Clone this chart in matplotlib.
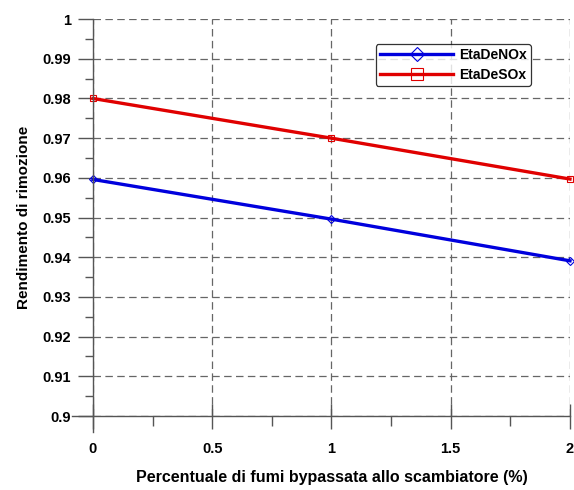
import matplotlib.pyplot as plt
import numpy as np

plt.rcParams['font.family'] = ['Liberation Sans', 'DejaVu Sans']
plt.rcParams['font.weight'] = 'bold'

bypass = [0, 1, 2]
eta_denox = [0.9596, 0.9496, 0.9391]
eta_desox = [0.980, 0.970, 0.9597]

fig = plt.figure(figsize=(5.74, 4.9), dpi=100)
ax = fig.add_axes([0.162, 0.151, 0.831, 0.810])

ax.plot(bypass, eta_denox, color='#0000dd', lw=2.4, marker='D', ms=4,
        mfc='none', mec='#0000dd', mew=0.8, label='EtaDeNOx', clip_on=False)
ax.plot(bypass, eta_desox, color='#e00000', lw=2.4, marker='s', ms=5,
        mfc='none', mec='#e00000', mew=0.8, label='EtaDeSOx', clip_on=False)

ax.set_xlim(0, 2)
ax.set_ylim(0.9, 1.0)
ax.set_xticks(np.arange(0, 2.01, 0.5))
ax.set_xticklabels(['0', '0.5', '1', '1.5', '2'])
ax.set_xticks(np.arange(0.25, 2, 0.5), minor=True)
ax.set_yticks(np.arange(0.9, 1.001, 0.01))
ax.set_yticklabels(['0.9', '0.91', '0.92', '0.93', '0.94', '0.95', '0.96',
                    '0.97', '0.98', '0.99', '1'])
ax.set_yticks(np.arange(0.905, 1.0, 0.01), minor=True)

ax.grid(True, which='major', ls=(0, (6, 3.5)), color='#666666', lw=0.9)
ax.set_axisbelow(True)

for s in ['top', 'right']:
    ax.spines[s].set_visible(False)
for s in ['left', 'bottom']:
    ax.spines[s].set_color('#555555')
    ax.spines[s].set_linewidth(1.0)
ax.spines['left'].set_bounds(0.896, 1.0)
ax.spines['bottom'].set_bounds(-0.09, 2.0)

ax.tick_params(axis='y', which='major', direction='out', length=11, width=1,
               color='#555555', pad=5, labelsize=10.5)
ax.tick_params(axis='y', which='minor', direction='out', length=6, width=1,
               color='#555555')
ax.tick_params(axis='x', which='major', direction='inout', length=18, width=1,
               color='#555555', pad=10, labelsize=10.5)
ax.tick_params(axis='x', which='minor', direction='out', length=7, width=1,
               color='#555555')

ax.set_ylabel('Rendimento di rimozione', fontsize=11, fontweight='bold', labelpad=8)
ax.set_xlabel('Percentuale di fumi bypassata allo scambiatore (%)', fontsize=11.5,
              fontweight='bold', labelpad=10)

leg = ax.legend(loc='upper right', bbox_to_anchor=(0.918, 0.937), fontsize=10,
                frameon=True, fancybox=True, edgecolor='black', handlelength=5.3,
                markerscale=1.8, borderpad=0.3, labelspacing=0.4,
                handletextpad=0.4, borderaxespad=0)
leg.get_frame().set_linewidth(0.9)
for t in leg.get_texts():
    t.set_fontweight('bold')

fig.savefig('out.png', dpi=100)
